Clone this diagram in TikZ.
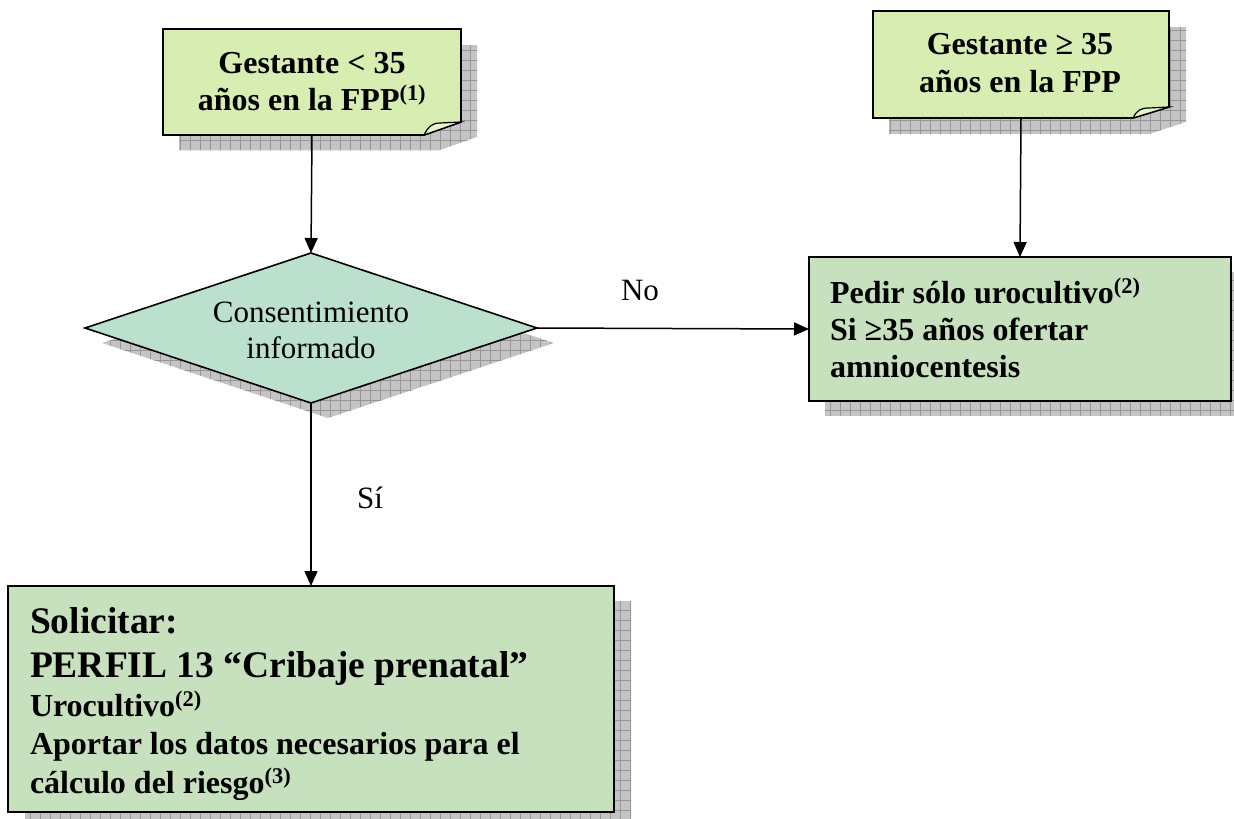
\documentclass[tikz,border=0pt]{standalone}
\usepackage{fontspec}
\setmainfont{Liberation Serif}
\usetikzlibrary{arrows.meta,shapes.geometric}
\definecolor{notefill}{RGB}{216,237,178}
\definecolor{foldfill}{RGB}{230,243,205}
\definecolor{diamondfill}{RGB}{187,225,206}
\definecolor{boxfill}{RGB}{199,224,190}
\definecolor{shadowfill}{RGB}{196,196,196}
\definecolor{gridcol}{RGB}{150,150,150}
\newcommand\supx[1]{\textsuperscript{#1}}
\newcommand\hshadow[1]{%
  \begin{scope}
    \clip #1;
    \fill[shadowfill] (0,0) rectangle (1234,819);
    \foreach \g in {0,10,...,1240} \draw[gridcol,line width=0.6pt] (\g,0) -- (\g,819);
    \foreach \g in {0,10,...,820} \draw[gridcol,line width=0.6pt] (0,\g) -- (1234,\g);
  \end{scope}}
\tikzset{
  notebox/.style={draw=black,line width=1.8pt,fill=notefill,line join=miter},
  foldbox/.style={draw=black,line width=1.2pt,fill=foldfill},
  anchorbox/.style={draw=none,inner sep=0pt,outer sep=0pt},
  greenbox/.style={draw=black,line width=2.6pt,fill=boxfill,inner sep=0pt,outer sep=0pt},
  decision/.style={diamond,aspect=3.01,draw=black,line width=1.6pt,fill=diamondfill,inner sep=0pt,outer sep=0pt},
  txt/.style={inner sep=0pt,outer sep=0pt},
  notefont/.style={font=\fontsize{32pt}{37pt}\selectfont\bfseries},
  boxfont/.style={font=\fontsize{32pt}{37pt}\selectfont\bfseries},
  bigfont/.style={font=\fontsize{37.5pt}{44pt}\selectfont\bfseries},
  plainfont/.style={font=\fontsize{31pt}{36pt}\selectfont},
  conn/.style={line width=1.5pt,-{Triangle[length=15pt,width=13pt]}}
}
\begin{document}
\begin{tikzpicture}[x=1pt,y=-1pt]
\useasboundingbox (0,0) rectangle (1234,819);
% shadows
\hshadow{(179,45) -- (477,45) -- (477,137) -- (440,150) -- (179,150) -- cycle}
\hshadow{(889,27) -- (1186,27) -- (1186,122) -- (1149,134) -- (889,134) -- cycle}
\hshadow{(102,343) -- (328,268) -- (554,343) -- (328,418) -- cycle}
\hshadow{(825,272) rectangle (1234,415)}
\hshadow{(25,601) rectangle (631,819)}
% note 1
\draw[notebox] (163,29) -- (461,29) -- (461,122) -- (424,135) -- (163,135) -- cycle;
\draw[foldbox] (424,135) .. controls (428,127) and (432,123) .. (440,123) -- (461,122) -- cycle;
\node[anchorbox,minimum width=298pt,minimum height=106pt] (n1) at (312,82) {};
\node[txt,notefont,anchor=base] at (312,73) {Gestante < 35};
\node[txt,notefont,anchor=base] at (312,110) {años en la FPP\supx{(1)}};
% note 2
\draw[notebox] (873,11) -- (1169,11) -- (1169,107) -- (1133,118) -- (873,118) -- cycle;
\draw[foldbox] (1133,118) .. controls (1137,110) and (1141,108) .. (1149,108) -- (1169,107) -- cycle;
\node[anchorbox,minimum width=296pt,minimum height=107pt] (n2) at (1021,64.5) {};
\node[txt,notefont,anchor=base] at (1020,54) {Gestante ≥ 35};
\node[txt,notefont,anchor=base] at (1020,92) {años en la FPP};
% decision
\node[decision,minimum width=452pt,minimum height=150pt] (d) at (311,328) {};
\node[txt,plainfont,anchor=base] at (311,322) {Consentimiento};
\node[txt,plainfont,anchor=base] at (311,358) {informado};
% right box
\node[greenbox,minimum width=422pt,minimum height=144pt] (r) at (1020,329) {};
\node[txt,boxfont,anchor=base west] at (830,303) {Pedir sólo urocultivo\supx{(2)}};
\node[txt,boxfont,anchor=base west] at (830,340) {Si ≥35 años ofertar};
\node[txt,boxfont,anchor=base west] at (830,377) {amniocentesis};
% bottom box
\node[greenbox,minimum width=606pt,minimum height=226pt] (b) at (311,699) {};
\node[txt,bigfont,anchor=base west] at (30,633) {Solicitar:};
\node[txt,bigfont,anchor=base west] at (30,677) {PERFIL 13 “Cribaje prenatal”};
\node[txt,boxfont,anchor=base west] at (30,716) {Urocultivo\supx{(2)}};
\node[txt,boxfont,anchor=base west] at (30,754) {Aportar los datos necesarios para el};
\node[txt,boxfont,anchor=base west] at (30,793) {cálculo del riesgo\supx{(3)}};
% connectors
\draw[conn] (n1.south) -- (d.north);
\draw[conn] (n2.south) -- (r.north);
\draw[conn] (d.east) -- (r.west);
\draw[conn] (d.south) -- (b.north);
\node[txt,plainfont,anchor=base] (no) at (640,300) {No};
\node[txt,plainfont,anchor=base] (si) at (370,508) {Sí};
\end{tikzpicture}
\end{document}
